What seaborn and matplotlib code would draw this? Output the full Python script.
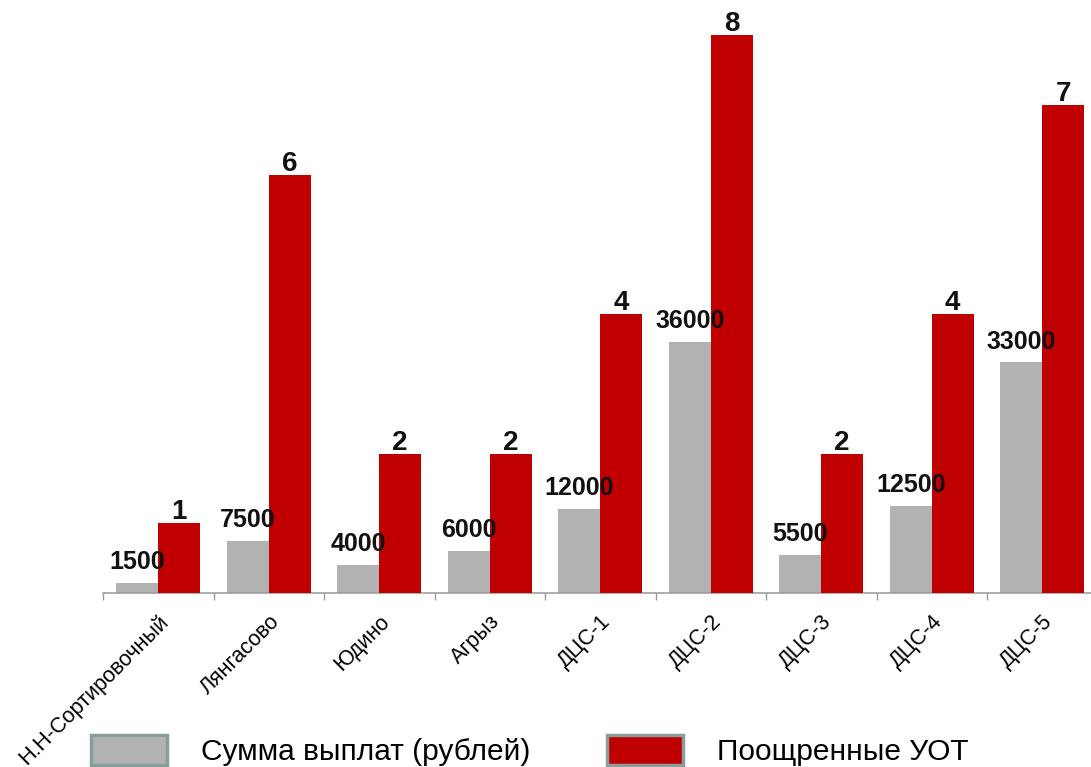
import numpy as np
import pandas as pd
import matplotlib
matplotlib.use("Agg")
import matplotlib.pyplot as plt
from matplotlib.patches import Patch
import seaborn as sns

categories = ["Н.Н-Сортировочный", "Лянгасово", "Юдино", "Агрыз", "ДЦС-1",
              "ДЦС-2", "ДЦС-3", "ДЦС-4", "ДЦС-5"]
payments = [1500, 7500, 4000, 6000, 12000, 36000, 5500, 12500, 33000]
rewarded = [1, 6, 2, 2, 4, 8, 2, 4, 7]
series_names = ["Сумма выплат (рублей)", "Поощренные УОТ"]
colors = ["#b2b2b2", "#c00000"]

sns.set_theme(style="white")
plt.rcParams["font.family"] = ["Liberation Sans", "DejaVu Sans"]

fig = plt.figure(figsize=(10.91, 7.67), dpi=100)
ax = fig.add_axes([103 / 1091, 1 - 593 / 767, 994.5 / 1091, 593 / 767])
ax2 = ax.twinx()

df_gray = pd.DataFrame({"cat": categories, "val": payments, "series": series_names[0]})
df_red = pd.DataFrame({"cat": categories, "val": rewarded, "series": series_names[1]})
palette = dict(zip(series_names, colors))

sns.barplot(data=df_gray, x="cat", y="val", hue="series", hue_order=series_names,
            order=categories, palette=palette, width=0.76, dodge=True, ax=ax, legend=False,
            errorbar=None, saturation=1, linewidth=0)
sns.barplot(data=df_red, x="cat", y="val", hue="series", hue_order=series_names,
            order=categories, palette=palette, width=0.76, dodge=True, ax=ax2, legend=False,
            errorbar=None, saturation=1, linewidth=0)

ax.set_xlim(-0.5, len(categories) - 0.5)
ax.set_ylim(0, 84884)
ax2.set_ylim(0, 8.508)

for a in (ax, ax2):
    a.set_yticks([])
    a.set_ylabel("")
    a.set_xlabel("")
    for s in ("left", "right", "top"):
        a.spines[s].set_visible(False)
ax2.spines["bottom"].set_visible(False)
ax.spines["bottom"].set_color("#999999")
ax.spines["bottom"].set_linewidth(1.1)

bounds = np.arange(-0.5, len(categories) + 0.5, 1.0)
ax.set_xticks(bounds)
ax.set_xticklabels([""] * len(bounds))
ax.tick_params(axis="x", which="major", length=5, width=1, color="#999999", direction="out", bottom=True)
ax.set_xticks(np.arange(len(categories)), minor=True)
ax.set_xticklabels(categories, minor=True, rotation=45, ha="right", rotation_mode="anchor",
                   fontsize=15.5, color="#000000")
ax.tick_params(axis="x", which="minor", length=0, pad=13)
ax2.tick_params(axis="x", which="both", length=0, labelbottom=False)

# value labels (drawn on top axis so they lie above red bars)
for p in ax.patches:
    h = p.get_height()
    if np.isfinite(h) and h > 0:
        cx = p.get_x() + p.get_width() / 2
        ax2.annotate(f"{int(round(h))}", xy=(cx, h), xycoords=ax.transData,
                     xytext=(0, 6.3), textcoords="offset points", ha="center", va="bottom",
                     fontsize=18, fontweight="bold", color="#111111", zorder=10)
for p in ax2.patches:
    h = p.get_height()
    if np.isfinite(h) and h > 0:
        cx = p.get_x() + p.get_width() / 2
        ax2.annotate(f"{int(round(h))}", xy=(cx, h), xycoords="data",
                     xytext=(0, -1.5), textcoords="offset points", ha="center", va="bottom",
                     fontsize=20, fontweight="bold", color="#111111", zorder=10)

handles = [Patch(facecolor=c, edgecolor="#8a9d9d", linewidth=2.5) for c in colors]
leg = fig.legend(handles, series_names, loc="lower left", bbox_to_anchor=(64 / 1091, -26 / 767),
                 ncol=2, frameon=False, fontsize=21.5, handlelength=2.55, handleheight=1.2,
                 handletextpad=1.15, columnspacing=2.55)
for t in leg.get_texts():
    t.set_color("#000000")

fig.savefig("out.png", dpi=100)
